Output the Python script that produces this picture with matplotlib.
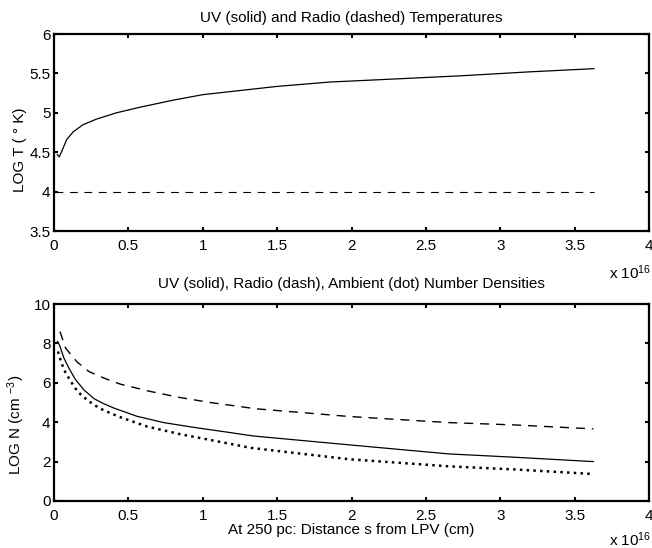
import matplotlib
matplotlib.use("Agg")
import matplotlib.pyplot as plt

plt.rcParams['font.family'] = ['Liberation Sans', 'DejaVu Sans']
plt.rcParams['mathtext.default'] = 'regular'

# --- data (distance in units of 1e16 cm) ---
uv_T_x = [0.022, 0.035, 0.052, 0.085, 0.13, 0.196, 0.286, 0.42, 0.576, 0.8,
          1.0, 1.5, 1.85, 2.3, 2.74, 3.2, 3.63]
uv_T = [4.47, 4.44, 4.51, 4.66, 4.76, 4.85, 4.92, 5.0, 5.07, 5.16,
        5.23, 5.335, 5.39, 5.43, 5.47, 5.52, 5.56]
radio_T_x = [0.01, 3.63]
radio_T = [4.0, 4.0]

uv_N_x = [0.025, 0.04, 0.067, 0.1, 0.141, 0.2, 0.268, 0.331, 0.402, 0.558,
          0.737, 0.938, 1.16, 1.34, 1.984, 2.654, 3.1, 3.626]
uv_N = [8.1, 7.85, 7.25, 6.75, 6.2, 5.65, 5.2, 4.95, 4.72, 4.3,
        3.98, 3.74, 3.5, 3.3, 2.85, 2.39, 2.22, 2.0]
radio_N_x = [0.04, 0.078, 0.156, 0.235, 0.335, 0.447, 0.648, 0.849, 1.05,
             1.359, 1.984, 2.654, 3.1, 3.626]
radio_N = [8.6, 7.76, 7.05, 6.57, 6.24, 5.93, 5.56, 5.25, 5.0,
           4.68, 4.29, 3.98, 3.86, 3.66]
amb_N_x = [0.027, 0.05, 0.078, 0.119, 0.145, 0.186, 0.264, 0.335, 0.447,
           0.626, 0.849, 1.07, 1.32, 1.984, 2.654, 3.1, 3.626]
amb_N = [7.59, 7.0, 6.5, 6.0, 5.7, 5.35, 4.9, 4.6, 4.25,
         3.78, 3.39, 3.07, 2.7, 2.12, 1.76, 1.6, 1.37]

x_ticks = [0, 0.5, 1, 1.5, 2, 2.5, 3, 3.5, 4]
x_ticklabels = ['0', '0.5', '1', '1.5', '2', '2.5', '3', '3.5', '4']

FS = 11
W, H = 652, 548
fig = plt.figure(figsize=(W / 100, H / 100), dpi=100)
ax1 = fig.add_axes([54 / W, 1 - 231 / H, 595 / W, 197 / H])
ax2 = fig.add_axes([54 / W, 1 - 501 / H, 595 / W, 197 / H])


def style(ax):
    for s in ax.spines.values():
        s.set_linewidth(1.6)
    ax.tick_params(direction='in', top=True, right=True, length=3, width=1.5,
                   labelsize=FS)
    ax.tick_params(axis='x', pad=5.5)
    ax.tick_params(axis='y', pad=2.5)
    ax.set_xlim(0, 4)
    ax.set_xticks(x_ticks)
    ax.set_xticklabels(x_ticklabels)


# top panel: temperatures
ax1.plot(uv_T_x, uv_T, color='black', lw=0.9)
ax1.plot(radio_T_x, radio_T, color='black', lw=0.8, dashes=(7, 6))
style(ax1)
ax1.set_ylim(3.5, 6)
ax1.set_yticks([3.5, 4, 4.5, 5, 5.5, 6])
ax1.set_yticklabels(['3.5', '4', '4.5', '5', '5.5', '6'])
ax1.set_ylabel('LOG T ( ° K)', fontsize=FS)
ax1.yaxis.set_label_coords(-0.045, 0.41)

# bottom panel: number densities
ax2.plot(uv_N_x, uv_N, color='black', lw=0.9)
ax2.plot(radio_N_x, radio_N, color='black', lw=1.0, dashes=(6.5, 5))
ax2.plot(amb_N_x, amb_N, color='black', lw=1.8, linestyle=(0, (1, 1.7)))
style(ax2)
ax2.set_ylim(0, 10)
ax2.set_yticks([0, 2, 4, 6, 8, 10])
ax2.set_ylabel('LOG N (cm $^{-3}$)', fontsize=FS)
ax2.yaxis.set_label_coords(-0.045, 0.386)

# titles and labels
fig.text(351.5 / W, 1 - 18 / H, 'UV (solid) and Radio (dashed) Temperatures',
         ha='center', va='center', fontsize=FS)
fig.text(351.5 / W, 1 - 284 / H,
         'UV (solid), Radio (dash), Ambient (dot) Number Densities',
         ha='center', va='center', fontsize=FS)
fig.text(351.5 / W, 1 - 530 / H, 'At 250 pc: Distance s from LPV (cm)',
         ha='center', va='center', fontsize=FS)
fig.text(609 / W, 1 - 273 / H, 'x 10$^{16}$', ha='left', va='center',
         fontsize=FS)
fig.text(609 / W, 1 - 540 / H, 'x 10$^{16}$', ha='left', va='center',
         fontsize=FS)

fig.savefig('out.png', dpi=100)
